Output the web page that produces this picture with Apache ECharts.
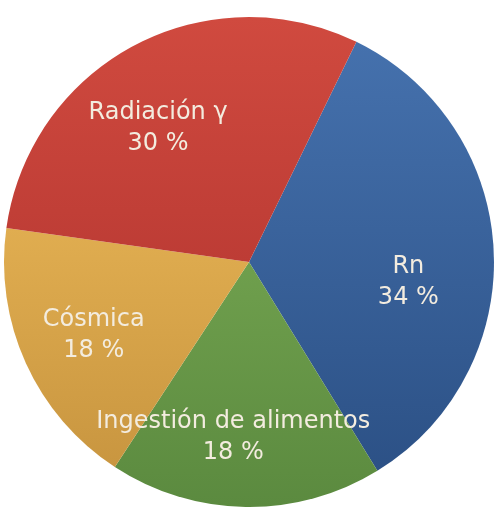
<!DOCTYPE html>
<html>
<head>
<meta charset="utf-8">
<script src="https://cdn.jsdelivr.net/npm/echarts@6/dist/echarts.min.js"></script>
<style>
  html, body { margin: 0; padding: 0; background: #fff; }
  #chart { width: 498px; height: 507px; }
</style>
</head>
<body>
<div id="chart"></div>
<script>
// datos del gráfico (porcentajes de dosis)
const names = ['Rn', 'Ingestión de alimentos', 'Cósmica', 'Radiación γ'];
const values = [34, 18, 18, 30];

// colores: claro arriba, oscuro abajo
const topColors = ['#4571ad', '#6f9f4d', '#e0ad50', '#d04a3f'];
const bottomColors = ['#2c5186', '#5b8a3f', '#c99640', '#bd3c35'];
// desplazamiento de cada etiqueta respecto a la posición interior
const labelShift = [[34, 26], [-14, 50], [-41, 21], [-32, -23]];

const chart = echarts.init(document.getElementById('chart'));

function grad(i) {
  return new echarts.graphic.LinearGradient(0, 0, 0, 1, [
    { offset: 0, color: topColors[i] },
    { offset: 1, color: bottomColors[i] }
  ]);
}

const pieData = names.map(function (n, i) {
  return { name: n, value: values[i], itemStyle: { color: grad(i) } };
});

chart.setOption({
  animation: false,
  series: [{
    type: 'pie',
    center: [249, 262],
    radius: [0, 245],
    startAngle: 64,
    clockwise: true,
    data: pieData,
    itemStyle: { borderWidth: 0 },
    label: {
      show: true,
      position: 'inside',
      formatter: function (p) { return p.name + '\n' + p.value + ' %'; },
      color: '#f3ecdf',
      fontFamily: 'DejaVu Sans',
      fontSize: 24,
      lineHeight: 31,
      align: 'center'
    },
    labelLine: { show: false },
    labelLayout: function (params) {
      const s = labelShift[params.dataIndex];
      return { dx: s[0], dy: s[1] };
    },
    emphasis: { disabled: true }
  }]
});
</script>
</body>
</html>
